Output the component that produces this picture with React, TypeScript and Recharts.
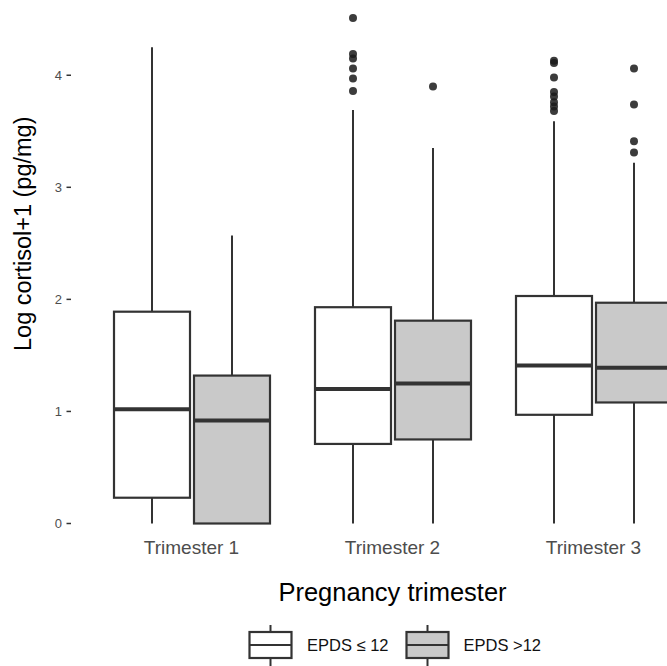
import { BarChart, Bar, XAxis, YAxis, Legend } from "recharts";

const trimesters = ["Trimester 1", "Trimester 2", "Trimester 3"];

// EPDS <= 12 (white boxes)
const lowMin = [0, 0, 0];
const lowQ1 = [0.23, 0.71, 0.97];
const lowMedian = [1.02, 1.2, 1.41];
const lowQ3 = [1.89, 1.93, 2.03];
const lowMax = [4.25, 3.69, 3.59];
const lowOutliers = [
  [],
  [4.51, 4.19, 4.15, 4.06, 3.97, 3.86],
  [4.13, 4.11, 3.98, 3.85, 3.81, 3.76, 3.72, 3.68],
];

// EPDS > 12 (grey boxes)
const highMin = [0, 0, 0];
const highQ1 = [0, 0.75, 1.08];
const highMedian = [0.92, 1.25, 1.39];
const highQ3 = [1.32, 1.81, 1.97];
const highMax = [2.57, 3.35, 3.22];
const highOutliers = [[], [3.9], [4.06, 3.74, 3.41, 3.31]];

const yTicks = [0, 1, 2, 3, 4];

const INK = "#333333";
const GREY = "#c9c9c9";
const FONT = '"Liberation Sans", Arial, sans-serif';

const data = trimesters.map((name, i) => ({
  name,
  low: { min: lowMin[i], q1: lowQ1[i], median: lowMedian[i], q3: lowQ3[i], max: lowMax[i], outliers: lowOutliers[i] },
  high: { min: highMin[i], q1: highQ1[i], median: highMedian[i], q3: highQ3[i], max: highMax[i], outliers: highOutliers[i] },
}));

function BoxShape(props: any) {
  const { x, y, width, height, payload, group, boxFill } = props;
  const s = payload[group];
  // bar spans whisker min..max, so pixels per unit come from the bar itself
  const unit = height / (s.max - s.min);
  const py = (v: number) => y + (s.max - v) * unit;
  const cx = x + width / 2;
  return (
    <g>
      <line x1={cx} x2={cx} y1={py(s.max)} y2={py(s.q3)} stroke={INK} strokeWidth={2} />
      <line x1={cx} x2={cx} y1={py(s.q1)} y2={py(s.min)} stroke={INK} strokeWidth={2} />
      <rect
        x={x}
        y={py(s.q3)}
        width={width}
        height={py(s.q1) - py(s.q3)}
        fill={boxFill}
        stroke={INK}
        strokeWidth={2.2}
      />
      <line x1={x} x2={x + width} y1={py(s.median)} y2={py(s.median)} stroke={INK} strokeWidth={4} />
      {s.outliers.map((v: number, k: number) => (
        <circle key={k} cx={cx} cy={py(v)} r={4} fill="#1a1a1a" fillOpacity={0.85} />
      ))}
    </g>
  );
}

function YTitle(props: any) {
  const vb = props.viewBox;
  const cx = vb.x + 23;
  const cy = vb.y + vb.height / 2 - 32;
  return (
    <text
      x={cx}
      y={cy}
      transform={`rotate(-90 ${cx} ${cy})`}
      textAnchor="middle"
      dominantBaseline="central"
      fontSize={23.5}
      fontFamily={FONT}
      fill="#000"
    >
      Log cortisol+1 (pg/mg)
    </text>
  );
}

function LegendIcon({ fill }: { fill: string }) {
  return (
    <svg width={45} height={42} style={{ display: "block" }}>
      <line x1={22.5} x2={22.5} y1={1} y2={8} stroke={INK} strokeWidth={2} />
      <line x1={22.5} x2={22.5} y1={34} y2={42} stroke={INK} strokeWidth={2} />
      <rect x={1.5} y={8} width={42} height={26} fill={fill} stroke={INK} strokeWidth={2.2} />
      <line x1={1.5} x2={43.5} y1={21} y2={21} stroke={INK} strokeWidth={2.2} />
    </svg>
  );
}

function LegendContent() {
  const text = { fontSize: 16.5, color: "#111", fontFamily: FONT };
  return (
    <div style={{ display: "flex", alignItems: "center" }}>
      <LegendIcon fill="#ffffff" />
      <span style={{ ...text, marginLeft: 14, marginRight: 16 }}>EPDS ≤ 12</span>
      <LegendIcon fill={GREY} />
      <span style={{ ...text, marginLeft: 14 }}>EPDS &gt;12</span>
    </div>
  );
}

export default function App() {
  return (
    <div
      style={{
        position: "absolute",
        left: 0,
        top: 0,
        width: 667,
        height: 666,
        overflow: "hidden",
        background: "#fff",
        fontFamily: FONT,
      }}
    >
      <BarChart
        width={714}
        height={666}
        data={data}
        margin={{ top: 8, right: 0, bottom: 0, left: 0 }}
        barSize={76}
        barGap={4}
      >
        <XAxis
          dataKey="name"
          height={142.5}
          padding={{ left: 20, right: 20 }}
          axisLine={false}
          tickLine={false}
          tickSize={6}
          tickMargin={11.5}
          tick={{ fontSize: 19, fill: "#4d4d4d", fontFamily: FONT }}
          label={{
            value: "Pregnancy trimester",
            position: "insideBottom",
            offset: 65,
            fontSize: 25.5,
            fill: "#000",
            fontFamily: FONT,
          }}
        />
        <YAxis
          width={71}
          domain={[0, 4.6]}
          ticks={yTicks}
          axisLine={false}
          tickSize={4.5}
          tickMargin={4.5}
          tickLine={{ stroke: INK, strokeWidth: 1.5 }}
          tick={{ fontSize: 13, fill: "#4d4d4d", fontFamily: FONT }}
          label={<YTitle />}
        />
        <Legend
          layout="horizontal"
          verticalAlign="middle"
          align="center"
          wrapperStyle={{ position: "absolute", left: 248, top: 624, width: 320 }}
          content={() => <LegendContent />}
        />
        <Bar
          dataKey={(d: any) => [d.low.min, d.low.max]}
          name="EPDS ≤ 12"
          fill="#ffffff"
          isAnimationActive={false}
          activeBar={false}
          shape={(p: any) => <BoxShape {...p} group="low" boxFill="#ffffff" />}
        />
        <Bar
          dataKey={(d: any) => [d.high.min, d.high.max]}
          name="EPDS >12"
          fill={GREY}
          isAnimationActive={false}
          activeBar={false}
          shape={(p: any) => <BoxShape {...p} group="high" boxFill={GREY} />}
        />
      </BarChart>
    </div>
  );
}
